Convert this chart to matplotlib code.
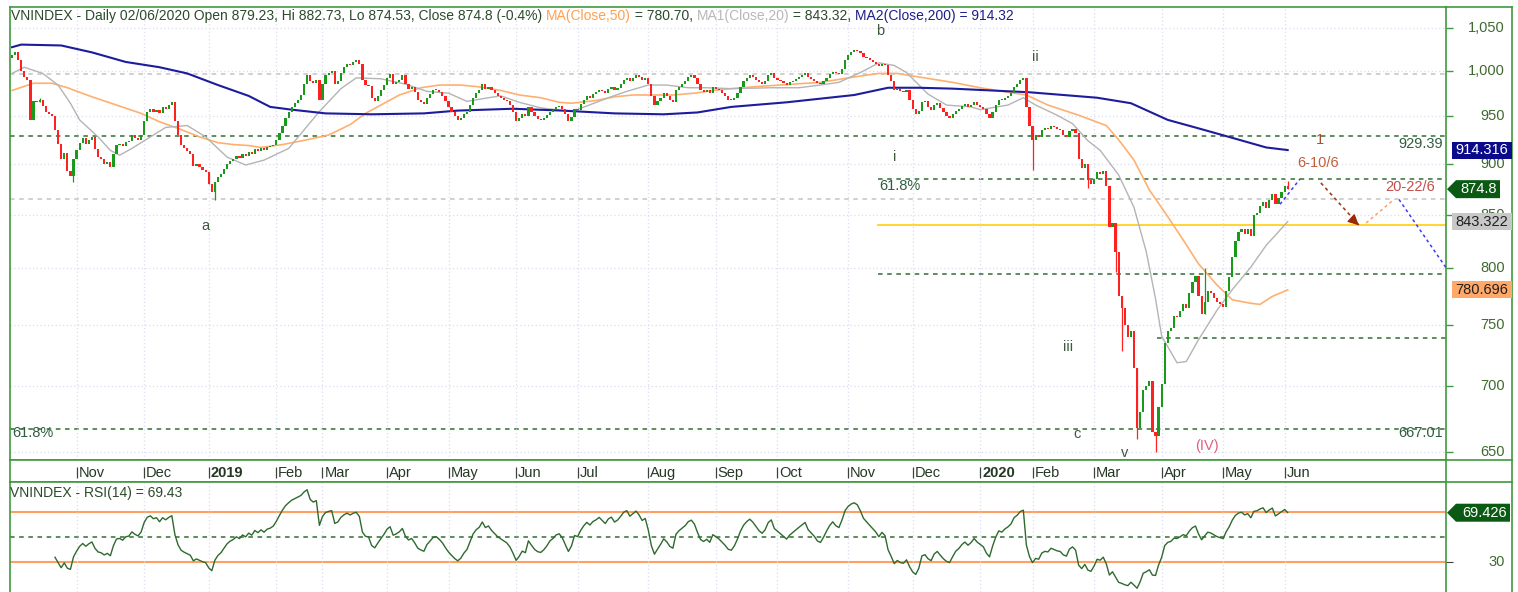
import numpy as np
import pandas as pd
import matplotlib
matplotlib.use("Agg")
import matplotlib.pyplot as plt
from matplotlib.lines import Line2D
from matplotlib.patches import Polygon, Rectangle
from matplotlib import font_manager

# ---------------- data ----------------
month_labels = ['Oct', 'Nov', 'Dec', '2019', 'Feb', 'Mar', 'Apr', 'May', 'Jun', 'Jul', 'Aug', 'Sep',
                'Oct', 'Nov', 'Dec', '2020', 'Feb', 'Mar', 'Apr', 'May', 'Jun']
month_days = [21, 22, 21, 22, 15, 21, 20, 22, 20, 23, 22, 20, 23, 21, 22, 17, 20, 22, 20, 20, 2]

oct18 = [1018, 1022, 1012, 1000, 993, 990, 946, 966, 965, 967, 961, 955, 952, 950, 935, 921, 905, 911, 893, 888, 905]
nov18 = [914, 922, 927, 921, 925, 928, 915, 907, 905, 900, 902, 897, 910, 920, 921, 918, 923, 924, 930, 927, 925, 930]
dec18 = [945, 955, 958, 955, 957, 953, 960, 958, 962, 965, 945, 930, 920, 916, 913, 910, 898, 900, 897, 894, 892]
jan19 = [880, 872, 882, 887, 890, 895, 900, 903, 905, 908, 906, 910, 908, 912, 910, 915, 913, 916, 914, 917, 918, 920]
feb19 = [925, 932, 940, 948, 954, 960, 964, 968, 973, 985, 995, 988, 986, 990, 967]
mar19 = [985, 995, 998, 1000, 985, 988, 998, 1004, 1008, 1006, 1010, 1012, 1008, 990, 984, 983, 970, 966, 972, 978, 984]
apr19 = [992, 996, 985, 987, 990, 995, 985, 980, 982, 976, 968, 965, 963, 970, 974, 978, 979, 976, 972, 966]
may19 = [960, 955, 950, 946, 948, 952, 955, 962, 970, 975, 978, 985, 980, 982, 978, 975, 972, 970, 968, 966, 962, 955]
jun19 = [945, 948, 952, 950, 960, 955, 950, 947, 946, 948, 951, 955, 957, 960, 961, 958, 952, 945, 949, 958]
jul19 = [957, 963, 968, 972, 970, 974, 976, 979, 977, 975, 980, 982, 979, 981, 985, 990, 992, 989, 992, 995, 993, 990, 992]
aug19 = [985, 972, 962, 966, 970, 975, 972, 967, 965, 978, 982, 985, 988, 993, 995, 992, 985, 978, 976, 978, 975, 982]
sep19 = [980, 978, 975, 972, 968, 967, 970, 975, 982, 988, 992, 995, 993, 990, 987, 985, 988, 995, 998, 992]
oct19 = [990, 988, 986, 984, 987, 989, 991, 993, 995, 997, 993, 991, 989, 986, 985, 988, 992, 996, 999, 997, 996, 1002, 1012]
nov19 = [1018, 1022, 1024, 1023, 1020, 1016, 1014, 1012, 1010, 1008, 1005, 1008, 1006, 995, 988, 978, 980, 977, 976, 978, 968]
dec19 = [958, 952, 956, 965, 966, 960, 957, 962, 964, 959, 954, 950, 948, 952, 956, 958, 961, 963, 960, 962, 965, 962]
jan20 = [960, 958, 952, 948, 955, 962, 968, 967, 970, 972, 975, 982, 985, 990, 992, 960, 940]
feb20 = [925, 930, 928, 935, 937, 936, 940, 938, 936, 935, 930, 928, 934, 936, 932, 905, 896, 900, 884, 880]
mar20 = [885, 892, 890, 893, 878, 838, 842, 815, 775, 765, 750, 740, 745, 715, 668, 680, 697, 700, 704, 665, 662, 684]
apr20 = [702, 735, 745, 748, 758, 757, 762, 768, 765, 778, 788, 793, 775, 760, 770, 780, 778, 774, 770, 768]
may20 = [766, 780, 792, 810, 825, 833, 836, 832, 836, 830, 850, 852, 858, 862, 856, 864, 870, 860, 866, 872]
jun20 = [878.3, 874.8]
first_open = 1015

# notable wick extremes: index -> value
wick_low = {20: 882, 66: 864, 332: 894, 350: 876, 359: 797, 361: 729, 366: 660, 372: 650, 415: 874.53}
wick_high = {9: 970, 64: 892, 388: 800, 415: 882.73}

# moving averages: (bar index, value)
ma20_pts = [(0, 997), (4, 1004), (10, 997), (15, 984), (19, 964), (22, 946), (28, 928), (32, 914), (35, 909),
            (39, 916), (45, 928), (50, 938), (57, 940), (63, 928), (70, 907), (76, 899), (82, 904), (90, 916),
            (100, 955), (107, 980), (112, 992), (120, 991), (128, 985), (135, 977), (142, 975), (148, 966),
            (155, 970), (159, 972), (165, 965), (172, 959), (182, 955), (187, 961), (194, 970), (200, 977),
            (207, 984), (213, 984), (220, 981), (226, 981), (234, 980), (247, 981), (256, 981), (263, 984),
            (269, 987), (276, 998), (282, 1009), (287, 1006), (291, 998), (298, 974), (304, 962), (312, 960),
            (315, 957), (324, 962), (329, 970), (333, 962), (340, 951), (345, 942), (350, 924), (354, 914),
            (360, 889), (365, 857), (369, 815), (372, 773), (374, 741), (379, 719), (382, 720), (386, 738),
            (392, 763), (397, 781), (403, 801), (408, 821), (415, 843.3)]
ma50_pts = [(0, 978), (7, 986), (13, 986), (18, 981), (26, 971), (34, 962), (42, 953), (48, 944), (54, 937),
            (61, 928), (67, 922), (72, 920), (77, 919), (81, 917), (88, 920), (96, 925), (103, 930), (110, 941),
            (115, 953), (120, 962), (126, 973), (133, 981), (139, 984), (146, 984), (152, 982), (159, 978),
            (165, 973), (172, 970), (178, 965), (182, 964), (190, 967), (196, 971), (202, 973), (208, 973),
            (215, 973), (222, 975), (228, 978), (234, 980), (241, 982), (263, 987), (274, 993), (282, 997),
            (288, 997), (295, 993), (306, 987), (315, 981), (324, 976), (330, 973), (337, 962), (347, 951),
            (356, 940), (360, 925), (365, 904), (370, 874), (376, 848), (381, 826), (386, 804), (392, 785),
            (397, 772), (403, 769), (406, 768), (410, 775), (415, 780.7)]
ma200_pts = [(0, 1027), (3, 1030), (16, 1029), (26, 1021), (37, 1010), (48, 1004), (57, 997), (67, 984),
             (77, 972), (84, 960), (91, 957), (102, 953), (117, 952), (134, 953), (145, 956), (163, 958),
             (179, 956), (196, 953), (212, 952), (223, 954), (234, 960), (252, 965), (274, 973), (285, 981),
             (295, 981), (306, 980), (331, 976), (342, 973), (353, 970), (364, 964), (376, 946), (386, 937),
             (397, 927), (408, 917), (415, 914.3)]

y_ticks = [650, 700, 750, 800, 850, 900, 950, 1000, 1050]
gray_levels = [996.5, 865.0]
full_green_levels = [929.39, 667.01]
partial_green_levels = [(281.7, 884.9), (281.7, 795.0), (372.5, 739.4)]   # (start index, level)
yellow_level = (281.7, 840.0)

proj_blue1 = ([412.5, 419.0], [860.0, 884.9])
proj_arrow = ([425.8, 438.8], [881.0, 838.0])
proj_orange = ([440.5, 449.6], [842.0, 864.7])
proj_blue2 = ([451.2, 466.5], [864.7, 800.6])

# ---------------- setup ----------------
names = {f.name for f in font_manager.fontManager.ttflist}
FONT = [f for f in ['Liberation Sans Narrow', 'Liberation Sans', 'DejaVu Sans'] if f in names]
plt.rcParams['font.family'] = FONT

W, H = 1518, 592
fig = plt.figure(figsize=(W / 100, H / 100), dpi=100)
fig.patch.set_facecolor('white')

GREEN_BORDER = '#3f9a3f'
TXT = '#2b4a2b'
AXTXT = '#3f6a2f'
GRID = '#dcdcf0'
FS = 10.5


def add_ax(x0, y0, x1, y1):
    return fig.add_axes([x0 / W, 1 - y1 / H, (x1 - x0) / W, (y1 - y0) / H])


def fx(x):
    return x / W


def fy(y):
    return 1 - y / H


closes = np.array(oct18 + nov18 + dec18 + jan19 + feb19 + mar19 + apr19 + may19 + jun19 + jul19 + aug19 +
                  sep19 + oct19 + nov19 + dec19 + jan20 + feb20 + mar20 + apr20 + may20 + jun20, dtype=float)
n = len(closes)
idx = np.arange(n)
opens = np.r_[first_open, closes[:-1]]
month_start = np.cumsum([0] + month_days)[:-1]

XLIM = (-0.65, 466.5)

ax = add_ax(10, 7, 1446, 460)
axd = add_ax(10, 460, 1446, 482)
axr = add_ax(10, 482, 1446, 592)

# ---------------- price panel ----------------
ax.set_yscale('log')
ax.set_xlim(*XLIM)
ax.set_ylim(644.2, 1074.7)
ax.set_yticks(y_ticks)
ax.yaxis.set_minor_locator(matplotlib.ticker.NullLocator())
ax.set_yticklabels([])
ax.set_xticks(month_start[1:])
ax.set_xticklabels([])
ax.yaxis.tick_right()
ax.tick_params(axis='y', direction='out', length=5, color=GREEN_BORDER, width=1)
ax.tick_params(axis='x', length=0)
ax.grid(True, color=GRID, linestyle=(0, (1, 2)), linewidth=0.9)
for s in ax.spines.values():
    s.set_color(GREEN_BORDER)
    s.set_linewidth(1.2)

dash = (0, (3, 3))
for lv in gray_levels:
    ax.plot(XLIM, [lv, lv], color='#c4c4c4', lw=1.1, ls=dash, zorder=1)
for lv in full_green_levels:
    ax.plot(XLIM, [lv, lv], color='#2f6f2f', lw=1.1, ls=dash, zorder=1)
for st, lv in partial_green_levels:
    ax.plot([st, XLIM[1]], [lv, lv], color='#2f6f2f', lw=1.1, ls=dash, zorder=1)
ax.plot([yellow_level[0], XLIM[1]], [yellow_level[1]] * 2, color='#ffd21f', lw=1.3, zorder=1)

# moving averages
for pts, col, lw in [(ma50_pts, '#ffb070', 1.2), (ma20_pts, '#b4b4b4', 1.0), (ma200_pts, '#1c1c9c', 1.5)]:
    xs, ys = zip(*pts)
    ax.plot(xs, ys, color=col, lw=lw, zorder=2)

# candles
up = closes >= opens
lo = np.minimum(opens, closes)
hi = np.maximum(opens, closes)
hgt = np.maximum(hi - lo, lo * 0.0012)
for i in sorted(set(wick_low) | set(wick_high)):
    wl = min(wick_low.get(i, lo[i]), lo[i])
    wh = max(wick_high.get(i, hi[i]), hi[i])
    ax.vlines(i, wl, wh, color='#1a9a1a' if up[i] else '#ff2020', lw=0.9, zorder=3)
ax.bar(idx[up], hgt[up], bottom=lo[up], width=0.72, color='#1a9a1a', edgecolor='none', zorder=4)
ax.bar(idx[~up], hgt[~up], bottom=lo[~up], width=0.72, color='#ff2020', edgecolor='none', zorder=4)

# projections
ax.plot(*proj_blue1, color='#3a3aff', lw=1.1, ls=(0, (2, 2)), zorder=5)
ax.plot(*proj_arrow, color='#a0401a', lw=1.2, ls=(0, (2, 2)), zorder=5)
ax.annotate('', xy=(proj_arrow[0][1], proj_arrow[1][1]),
            xytext=(proj_arrow[0][1] - 2.6, proj_arrow[1][1] * 1.0085),
            arrowprops=dict(arrowstyle='-|>', color='#9a2a08', mutation_scale=16, lw=1), zorder=6)
ax.plot(*proj_orange, color='#ffa060', lw=1.1, ls=(0, (2, 2)), zorder=5)
ax.plot(*proj_blue2, color='#3a3aff', lw=1.1, ls=(0, (2, 2)), zorder=5)

# right axis labels
for v in y_ticks:
    ax.text(1.0411, v, f'{v:,}', transform=ax.get_yaxis_transform(), ha='right', va='center',
            fontsize=FS, color=AXTXT, clip_on=False)

# ---------------- date strip ----------------
axd.set_xlim(*XLIM)
axd.set_ylim(0, 1)
axd.set_xticks([])
axd.set_yticks([])
for s in axd.spines.values():
    s.set_color(GREEN_BORDER)
    s.set_linewidth(1.2)
for k in range(1, len(month_labels)):
    m = month_start[k]
    axd.vlines(m, 0.2, 0.7, color='#404040', lw=0.9)
    axd.text(m + 0.6, 0.43, month_labels[k], ha='left', va='center', fontsize=FS,
             color='#243824', fontweight='bold' if month_labels[k] in ('2019', '2020') else 'normal')

# ---------------- RSI panel ----------------
delta = pd.Series(closes).diff()
gain = delta.clip(lower=0)
loss = -delta.clip(upper=0)
ag = gain.ewm(alpha=1 / 14, adjust=False, min_periods=14).mean()
al = loss.ewm(alpha=1 / 14, adjust=False, min_periods=14).mean()
rsi = 100 - 100 / (1 + ag / al)

axr.set_xlim(*XLIM)
axr.set_ylim(6, 94)
axr.set_xticks(month_start[1:])
axr.set_xticklabels([])
axr.set_yticks([30])
axr.set_yticklabels([])
axr.yaxis.tick_right()
axr.tick_params(axis='y', direction='out', length=5, color='#404040')
axr.tick_params(axis='x', length=0)
axr.grid(True, axis='x', color=GRID, linestyle=(0, (1, 2)), linewidth=0.9)
for s in axr.spines.values():
    s.set_color(GREEN_BORDER)
    s.set_linewidth(1.2)
axr.spines['bottom'].set_visible(False)
axr.axhline(70, color='#ffa060', lw=1.5, zorder=1)
axr.axhline(30, color='#ffa060', lw=1.5, zorder=1)
axr.axhline(50, color='#2f6f2f', lw=1.1, ls=dash, zorder=1)
axr.plot(idx, rsi, color='#2e6a2e', lw=1.0, zorder=3)
axr.text(1.0411, 30, '30', transform=axr.get_yaxis_transform(), ha='right', va='center',
         fontsize=FS, color=AXTXT, clip_on=False)
axr.text(0.0, 0.90, 'VNINDEX - RSI(14) = 69.43', transform=axr.transAxes, ha='left', va='center',
         fontsize=10, color=TXT)

# ---------------- outer frame ----------------
for xs, ys in [([1446, 1512], [7, 7]), ([1512, 1512], [7, 592]), ([1446, 1512], [460, 460]),
               ([1446, 1512], [482, 482])]:
    fig.add_artist(Line2D([fx(x) for x in xs], [fy(y) for y in ys], transform=fig.transFigure,
                          color=GREEN_BORDER, lw=1.2))

fig.canvas.draw()
renderer = fig.canvas.get_renderer()


def ypix(a, v):
    return H - a.transData.transform((0, v))[1]


def rect_tag(a, v, text, face, tcol):
    yc = ypix(a, v)
    fig.add_artist(Rectangle((fx(1452), fy(yc + 8.5)), (1512 - 1452) / W, 17 / H, transform=fig.transFigure,
                             facecolor=face, edgecolor='none', zorder=10))
    fig.text(fx(1508), fy(yc), text, ha='right', va='center', fontsize=FS, color=tcol, zorder=11)


def arrow_tag(a, v, text, x_end):
    yc = ypix(a, v)
    pts = [(1447, yc), (1456, yc - 9), (x_end, yc - 9), (x_end, yc + 9), (1456, yc + 9)]
    fig.add_artist(Polygon([(fx(x), fy(y)) for x, y in pts], closed=True, transform=fig.transFigure,
                           facecolor='#0a5a14', edgecolor='none', zorder=10))
    fig.text(fx(x_end - 3), fy(yc), text, ha='right', va='center', fontsize=FS, color='white', zorder=11)


rect_tag(ax, 914.316, '914.316', '#0a0a8a', 'white')
arrow_tag(ax, 874.8, '874.8', 1500)
rect_tag(ax, 843.322, '843.322', '#c8c8c8', '#202020')
rect_tag(ax, 780.696, '780.696', '#ffa868', '#202020')
arrow_tag(axr, 69.426, '69.426', 1510)

# ---------------- header ----------------
pieces = [('VNINDEX - Daily 02/06/2020 Open 879.23, Hi 882.73, Lo 874.53, Close 874.8 (-0.4%) ', TXT),
          ('MA(Close,50)', '#ffa050'), (' = 780.70, ', TXT), ('MA1(Close,20)', '#b8b8b8'),
          (' = 843.32, ', TXT), ('MA2(Close,200) = 914.32', '#1e1e8c')]
xcur = 11
for s, c in pieces:
    t = fig.text(fx(xcur), fy(16), s, ha='left', va='center', fontsize=10, color=c)
    bb = t.get_window_extent(renderer)
    xcur = bb.x1

# ---------------- annotations ----------------
ann = [('a', 205, 226, '#3d5a3d', 'center'), ('b', 880, 31, '#3d5a3d', 'center'),
       ('i', 895, 157, '#3d5a3d', 'center'), ('ii', 1035, 57, '#3d5a3d', 'center'),
       ('iii', 1068, 347, '#3d5a3d', 'center'), ('c', 1077, 434, '#3d5a3d', 'center'),
       ('v', 1125, 453, '#3d5a3d', 'center'), ('(IV)', 1207, 446, '#e0607a', 'center'),
       ('1', 1320, 140, '#a0522d', 'center'), ('6-10/6', 1318, 163, '#c0603a', 'center'),
       ('20-22/6', 1410, 187, '#c0504d', 'center'),
       ('61.8%', 12, 433, '#2e5e3e', 'left'), ('61.8%', 879, 186, '#2e5e3e', 'left'),
       ('929.39', 1443, 144, '#2e5e3e', 'right'), ('667.01', 1443, 433, '#2e5e3e', 'right')]
for s, x, y, c, ha in ann:
    fig.text(fx(x), fy(y), s, ha=ha, va='center', fontsize=FS, color=c, zorder=9)

fig.savefig('out.png', dpi=100, facecolor='white')
